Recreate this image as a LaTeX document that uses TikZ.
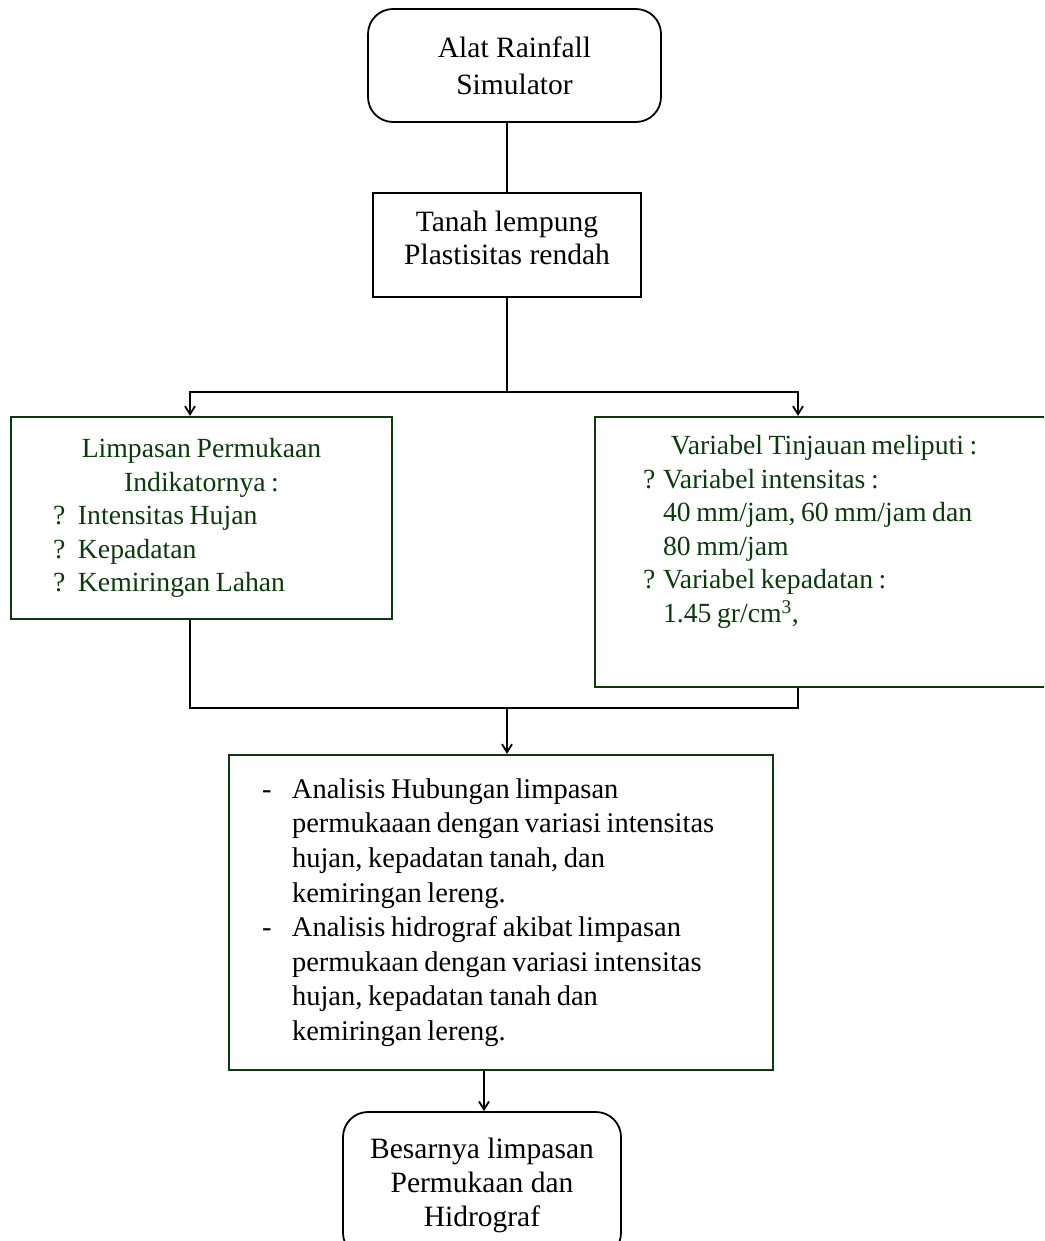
\documentclass[tikz,border=0pt]{standalone}
\usepackage{fontspec}
\setmainfont{Liberation Serif}
\usetikzlibrary{arrows.meta}
\definecolor{dgreen}{HTML}{0B3B0B}
\newcommand{\ctr}[2]{\makebox[#1][c]{#2}}
\newcommand{\qm}[1]{\makebox[#1][l]{?}}
\DeclareRobustCommand{\gfont}{\fontsize{27.7}{33.5}\selectfont\spaceskip=0.2em\relax}
\DeclareRobustCommand{\afont}{\fontsize{28.5}{34.6}\selectfont\spaceskip=0.2em\relax}

\begin{document}
\begin{tikzpicture}[
                    x=1pt, y=-1pt,
                    every node/.style={
                        draw,
                        line width=1.8pt,
                        inner sep=0pt
                    },
                    rbox/.style={rounded corners=25pt, align=center,
                        font=\fontsize{29.5}{37}\selectfont},
                    sbox/.style={align=center,
                        font=\fontsize{29.5}{33}\selectfont},
                    gbox/.style={draw=dgreen, line width=2.2pt, text=dgreen,
                        align=flush left, font=\gfont},
                    link/.style={line width=1.8pt},
                    arr/.style={link, -{Straight Barb[length=8pt,width=10pt]}}
                ]
                    \useasboundingbox (0,0) rectangle (1044,1241);
                    \clip (0,0) rectangle (1044,1241);

                    \node[rbox, minimum width=293pt, minimum height=113pt] (alat) at (514.5,65.5)
                        {Alat Rainfall\\Simulator};
                    \node[sbox, minimum width=268pt, minimum height=104pt, text depth=14pt] (tanah) at (507,245)
                        {Tanah lempung\\Plastisitas rendah};
                    \node[gbox, minimum width=381pt, minimum height=202pt, text width=297pt] (limpasan) at (201.5,518)
                        {\ctr{297pt}{Limpasan Permukaan}\\
                         \ctr{297pt}{Indikatornya :}\\
                         \qm{25pt}Intensitas Hujan\\
                         \qm{25pt}Kepadatan\\
                         \qm{25pt}Kemiringan Lahan};
                    \node[gbox, minimum width=458pt, minimum height=270pt, text width=362pt] (variabel) at (824,552)
                        {\ctr{362pt}{Variabel Tinjauan meliputi :}\\
                         \qm{20pt}Variabel intensitas :\\
                         \hspace*{20pt}40 mm/jam, 60 mm/jam dan\\
                         \hspace*{20pt}80 mm/jam\\
                         \qm{20pt}Variabel kepadatan :\\
                         \hspace*{20pt}1.45 gr/cm\textsuperscript{3},\\[13pt]
                         \mbox{}};
                    \node[gbox, text=black, font=\afont,
                          minimum width=544pt, minimum height=315pt, text width=478pt] (analisis) at (501,912.5)
                        {\makebox[30pt][l]{-}Analisis Hubungan limpasan\\
                         \hspace*{30pt}permukaaan dengan variasi intensitas\\
                         \hspace*{30pt}hujan, kepadatan tanah, dan\\
                         \hspace*{30pt}kemiringan lereng.\\
                         \makebox[30pt][l]{-}Analisis hidrograf akibat limpasan\\
                         \hspace*{30pt}permukaan dengan variasi intensitas\\
                         \hspace*{30pt}hujan, kepadatan tanah dan\\
                         \hspace*{30pt}kemiringan lereng.};
                    \node[rbox, font=\fontsize{29.5}{34}\selectfont,
                          minimum width=278pt, minimum height=146pt] (hasil) at (482,1185)
                        {Besarnya limpasan\\Permukaan dan\\Hidrograf};

                    % Edges
                    \coordinate (fork) at (507,392);
                    \coordinate (merge) at (507,708);
                    \draw[link] (tanah.north) -- (alat.south -| tanah.north);
                    \draw[link] (tanah.south) -- (fork);
                    \draw[arr] (fork) -| ([xshift=-11.5pt]limpasan.north);
                    \draw[arr] (fork) -| ([xshift=-26pt]variabel.north);
                    \draw[link] ([xshift=-11.5pt]limpasan.south) |- (merge);
                    \draw[link] ([xshift=-26pt]variabel.south) |- (merge);
                    \draw[arr] (merge) -- (merge |- analisis.north);
                    \draw[arr] ([xshift=-17pt]analisis.south) -- ([xshift=-17pt]analisis.south |- hasil.north);
                \end{tikzpicture}
\end{document}
